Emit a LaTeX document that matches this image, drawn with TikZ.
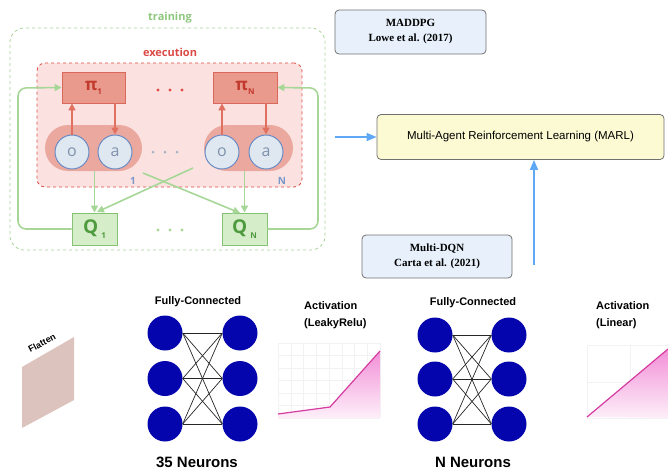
\documentclass[tikz,border=0pt]{standalone}
\usepackage{fontspec}
\usetikzlibrary{arrows.meta,shapes.misc}
\newfontfamily\osans{Open Sans}
\newfontfamily\lsans{Liberation Sans}
\newfontfamily\lserif{Liberation Serif}
\definecolor{trgreen}{HTML}{8EC77E}
\definecolor{garrow}{HTML}{A6D797}
\definecolor{exred}{HTML}{DB4A45}
\definecolor{exfill}{HTML}{FBE2E1}
\definecolor{pifill}{HTML}{EA998D}
\definecolor{piborder}{HTML}{D9675A}
\definecolor{pitext}{HTML}{C2392D}
\definecolor{capfill}{HTML}{EBA89E}
\definecolor{circfill}{HTML}{DFE7F1}
\definecolor{circborder}{HTML}{6A8BC4}
\definecolor{oatext}{HTML}{7F92AD}
\definecolor{rarrow}{HTML}{E0705F}
\definecolor{qfill}{HTML}{D6EDCA}
\definecolor{qborder}{HTML}{86C273}
\definecolor{qtext}{HTML}{4E9A3E}
\definecolor{barrow}{HTML}{5FA8F5}
\definecolor{reffill}{HTML}{E8F1FB}
\definecolor{marlfill}{HTML}{FCFAD2}
\definecolor{boxgray}{HTML}{707070}
\definecolor{nblue}{HTML}{0505AE}
\definecolor{flatfill}{HTML}{DCC3BD}
\definecolor{actline}{HTML}{D63CA0}
\definecolor{actfill}{HTML}{F07CD0}
\tikzset{
  trainbox/.style={draw=trgreen!80, dashed, line width=0.8pt, rounded corners=14pt, inner sep=0pt},
  execbox/.style={draw=exred, fill=exfill, dashed, line width=0.8pt, rounded corners=8pt, inner sep=0pt},
  pibox/.style={draw=piborder, fill=pifill, line width=0.8pt, inner sep=0pt, minimum height=31pt},
  capsule/.style={rounded rectangle, fill=capfill, inner sep=0pt, minimum height=46pt},
  obs/.style={circle, draw=circborder, fill=circfill, line width=1pt, minimum size=34pt, inner sep=0pt,
    font=\osans\fontsize{16}{16}\selectfont, text=oatext},
  qbox/.style={draw=qborder, fill=qfill, line width=0.8pt, inner sep=0pt, minimum width=45pt, minimum height=32pt},
  refbox/.style={draw=boxgray, fill=reffill, line width=0.8pt, rounded corners=4pt, inner sep=0pt,
    align=center, font=\lserif\bfseries\fontsize{11}{15}\selectfont},
  marlbox/.style={draw=boxgray, fill=marlfill, line width=0.8pt, rounded corners=4pt, inner sep=0pt,
    font=\lsans\fontsize{11.5}{13}\selectfont},
  neuron/.style={circle, fill=nblue, minimum size=35pt, inner sep=0pt},
  garr/.style={draw=garrow, line width=1.6pt, -{Triangle[length=7pt,width=7pt]}},
  rarr/.style={draw=rarrow, line width=1.6pt, -{Triangle[length=7pt,width=7pt]}},
  barr/.style={draw=barrow, line width=1.6pt, -{Triangle[length=10pt,width=8pt]}},
  wire/.style={draw=black!85, line width=0.7pt},
  gridline/.style={draw=black!5, line width=0.5pt},
  lbl/.style={font=\lsans\bfseries\fontsize{11}{17}\selectfont, inner sep=0pt}
}
\begin{document}
\begin{tikzpicture}[x=1pt,y=-1pt]
\useasboundingbox (0,0) rectangle (668,472);

% ---------- training / execution ----------
\node[trainbox, minimum width=315pt, minimum height=222pt] (train) at (167.5,139) {};
\node[text=trgreen, font=\osans\bfseries\fontsize{11}{11}\selectfont] (trlbl) at (170,18) {training};
\node[execbox, minimum width=265pt, minimum height=124pt] (exec) at (169.5,125) {};
\node[text=exred, font=\osans\bfseries\fontsize{11}{11}\selectfont] (exlbl) at (170,52) {execution};

\node[pibox, minimum width=63pt] (pi1) at (93.5,87.5)
  {\color{pitext}\osans\bfseries\fontsize{17}{17}\selectfont π\raisebox{-4pt}{\fontsize{8}{8}\selectfont 1}};
\node[pibox, minimum width=64pt] (piN) at (245,87.5)
  {\color{pitext}\osans\bfseries\fontsize{17}{17}\selectfont π\raisebox{-4pt}{\fontsize{8}{8}\selectfont N}};
\foreach \xx in {158,170,182} \fill[exred] (\xx,90) circle (1.7pt);

\node[capsule, minimum width=97pt] (cap1) at (93.5,148) {};
\node[capsule, minimum width=89pt] (capN) at (248.5,148) {};
\node[obs] (o1) at (72,152) {o};
\node[obs] (a1) at (115,152) {a};
\node[obs] (oN) at (222,152) {o};
\node[obs] (aN) at (266,152) {a};
\foreach \xx in {153,165,177} \fill[oatext!70] (\xx,152) circle (1.5pt);
\node[text=circborder!90, font=\osans\bfseries\fontsize{10}{10}\selectfont] (l1) at (133,181) {1};
\node[text=circborder!90, font=\osans\bfseries\fontsize{10}{10}\selectfont] (lN) at (282,181) {N};

\draw[rarr] (o1.north) -- (o1.north |- pi1.south);
\draw[rarr] (a1.north |- pi1.south) -- (a1.north);
\draw[rarr] (oN.north) -- (oN.north |- piN.south);
\draw[rarr] (aN.north |- piN.south) -- (aN.north);

\node[qbox] (Q1) at (94.5,229)
  {\color{qtext}\osans\bfseries\fontsize{19}{19}\selectfont Q\,\raisebox{-5pt}{\fontsize{8}{8}\selectfont 1}};
\node[qbox] (QN) at (244.5,229)
  {\color{qtext}\osans\bfseries\fontsize{19}{19}\selectfont Q\,\raisebox{-5pt}{\fontsize{8}{8}\selectfont N}};
\foreach \xx in {158,170,182} \fill[garrow] (\xx,230) circle (1.7pt);

\draw[garr] (Q1.north |- cap1.south) -- (Q1.north);
\draw[garr] (QN.north |- capN.south) -- (QN.north);
\coordinate (c1s) at (143,173);
\coordinate (cNs) at (193,168);
\coordinate (qNt) at (240,213);
\coordinate (q1t) at (97,212);
\draw[garr] (c1s) -- (qNt);
\draw[garr] (cNs) -- (q1t);
\draw[garr, rounded corners=8pt] (Q1.west) -- (18,229) -- (18,88) -- (pi1.west);
\draw[garr, rounded corners=8pt] (QN.east) -- (318,229) -- (318,88) -- (piN.east);

% ---------- references and MARL ----------
\node[refbox, minimum width=151pt, minimum height=44pt] (maddpg) at (410.5,32) {MADDPG\\Lowe et al. (2017)};
\node[marlbox, minimum width=287pt, minimum height=45pt] (marl) at (520.5,137) {Multi-Agent Reinforcement Learning (MARL)};
\node[refbox, minimum width=150pt, minimum height=43pt] (mdqn) at (437,256.5) {Multi-DQN\\Carta et al. (2021)};
\coordinate (hstart) at (335,137);
\draw[barr] (hstart) -- (marl.west);
\coordinate (vstart) at (534,265);
\draw[barr] (vstart) -- (vstart |- marl.south);

% ---------- flatten ----------
\fill[flatfill] (22,367) -- (74,337) -- (74,400) -- (22,428) -- cycle;
\node[font=\lsans\bfseries\fontsize{9}{9}\selectfont, rotate=28, inner sep=0pt] (flat) at (42,343) {Flatten};

% ---------- first dense layer ----------
\node[lbl] (fc1) at (198,302) {Fully-Connected};
\foreach \i/\yy in {1/333,2/378.5,3/424} {
  \node[neuron] (A\i) at (165,\yy) {};
  \node[neuron] (B\i) at (240,\yy) {};
}
\foreach \i in {1,2,3} \foreach \j in {1,2,3} \draw[wire] (A\i.east) -- (B\j.west);
\node[font=\lsans\bfseries\fontsize{15}{15}\selectfont, inner sep=0pt] (n35) at (197,462) {35 Neurons};

% ---------- LeakyReLU ----------
\node[lbl, align=left, anchor=west] (act1) at (304,315.5) {Activation\\(LeakyRelu)};
\foreach \gx in {278,290.75,...,381} \draw[gridline] (\gx,343) -- (\gx,418);
\foreach \gy in {343,355.5,...,419} \draw[gridline] (278,\gy) -- (380,\gy);
\shade[top color=actfill!85!white, bottom color=actfill!12!white]
  (278,414) -- (330,407) -- (380,351) -- (380,418) -- (278,418) -- cycle;
\draw[actline, line width=1.2pt] (278,414) -- (330,407) -- (380,351);

% ---------- second dense layer ----------
\node[lbl] (fc2) at (473,303) {Fully-Connected};
\foreach \i/\yy in {1/335,2/379,3/424} {
  \node[neuron] (C\i) at (435,\yy) {};
  \node[neuron] (D\i) at (509,\yy) {};
}
\foreach \i in {1,2,3} \foreach \j in {1,2,3} \draw[wire] (C\i.east) -- (D\j.west);
\node[font=\lsans\bfseries\fontsize{15}{15}\selectfont, inner sep=0pt] (nN) at (473,462) {N Neurons};

% ---------- Linear ----------
\node[lbl, align=left, anchor=west] (act2) at (596,315.5) {Activation\\(Linear)};
\draw[gridline] (587,345) rectangle (668,418);
\draw[gridline] (630,345) -- (630,418) (587,382) -- (668,382);
\shade[top color=actfill!85!white, bottom color=actfill!12!white]
  (587,417) -- (668,349) -- (668,418) -- cycle;
\draw[actline, line width=1.2pt] (587,417) -- (668,349);
\end{tikzpicture}
\end{document}
